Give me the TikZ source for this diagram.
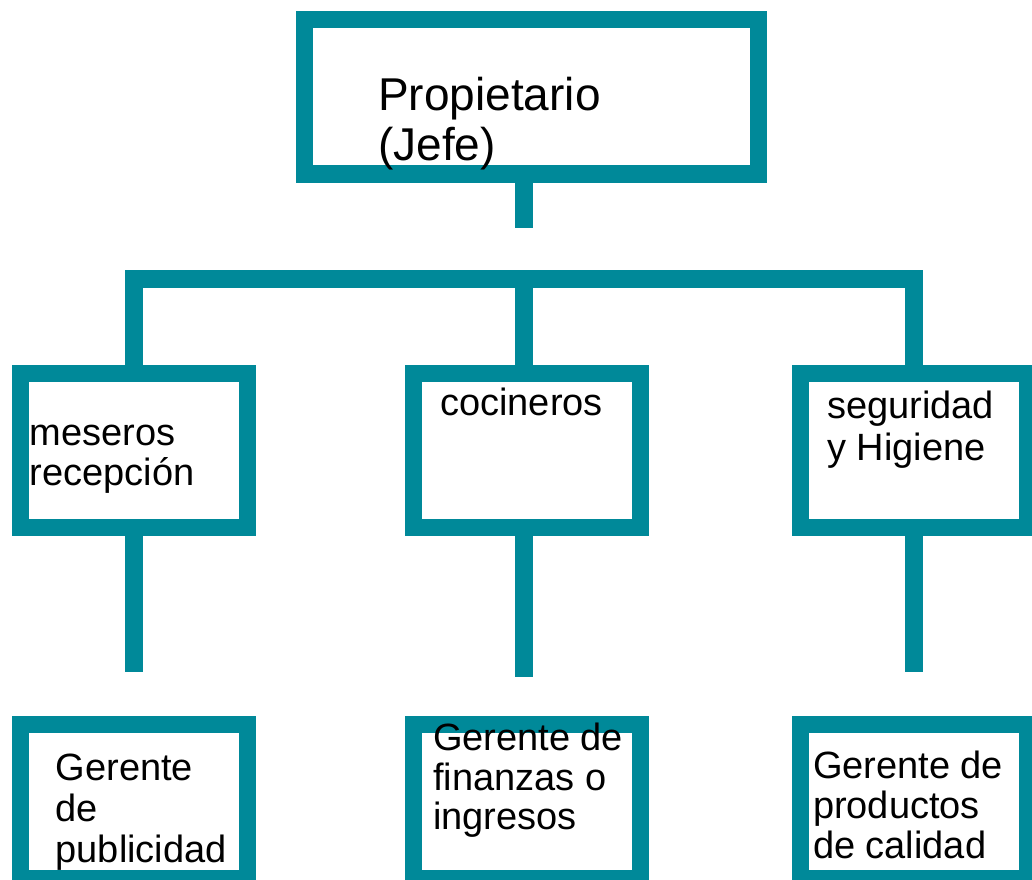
\documentclass[tikz,border=0pt]{standalone}
\usepackage{fontspec}
\setmainfont{Liberation Sans}
\definecolor{orgteal}{RGB}{0,137,153}
\begin{document}
\begin{tikzpicture}[x=1pt,y=-1pt,
	puesto/.style={draw=orgteal, line width=17.5pt, minimum width=227pt, minimum height=154.3pt, inner sep=0pt},
	linea/.style={draw=orgteal, line width=17.5pt},
	etiqueta/.style={anchor=north west, inner sep=0pt, align=left, font=\fontsize{38}{40}\selectfont}]
	\useasboundingbox (0,0) rectangle (1032,879);
	
	% Boxes
	\node[puesto, minimum width=454.4pt] (jefe) at (531.5,96.85) {};
	\node[puesto] (meseros) at (133.9,450.5) {};
	\node[puesto] (cocineros) at (527,450.5) {};
	\node[puesto] (seguridad) at (914,450.5) {};
	\node[puesto] (publicidad) at (133.9,801.6) {};
	\node[puesto] (finanzas) at (527,801.6) {};
	\node[puesto] (calidad) at (914,801.6) {};
	
	% Connectors
	\coordinate (tope) at (523.8,227.7);
	\coordinate (barra) at (523.8,279);
	\draw[linea] (jefe.south -| tope) -- (tope);
	\draw[linea] (meseros.north) |- (barra) -| (seguridad.north);
	\draw[linea] (barra) -- (barra |- cocineros.north);
	
	\coordinate (m1) at (133.9,671.7);
	\coordinate (c1) at (523.8,676.7);
	\coordinate (s1) at (914,671.7);
	\draw[linea] (meseros.south) -- (m1);
	\draw[linea] (c1 |- cocineros.south) -- (c1);
	\draw[linea] (seguridad.south) -- (s1);
	
	% Labels
	\node[etiqueta, font=\fontsize{46}{50}\selectfont] (tjefe) at (378,75) {\strut Propietario\\(Jefe)};
	\node[etiqueta] (tmeseros) at (29.5,417) {\strut meseros\\recepción};
	\node[etiqueta] (tcocineros) at (440,387.7) {\strut cocineros};
	\node[etiqueta, font=\fontsize{38}{41.5}\selectfont] (tseguridad) at (827,389.3) {\strut seguridad\\y Higiene};
	\node[etiqueta, font=\fontsize{38}{41}\selectfont] (tpublicidad) at (55.5,751.3) {\strut Gerente\\de\\publicidad};
	\node[etiqueta, font=\fontsize{38}{38.5}\selectfont] (tfinanzas) at (432.8,723) {\strut Gerente de\\finanzas o\\ingresos};
	\node[etiqueta] (tcalidad) at (812.8,750) {\strut Gerente de\\productos\\de calidad};
\end{tikzpicture}
\end{document}
